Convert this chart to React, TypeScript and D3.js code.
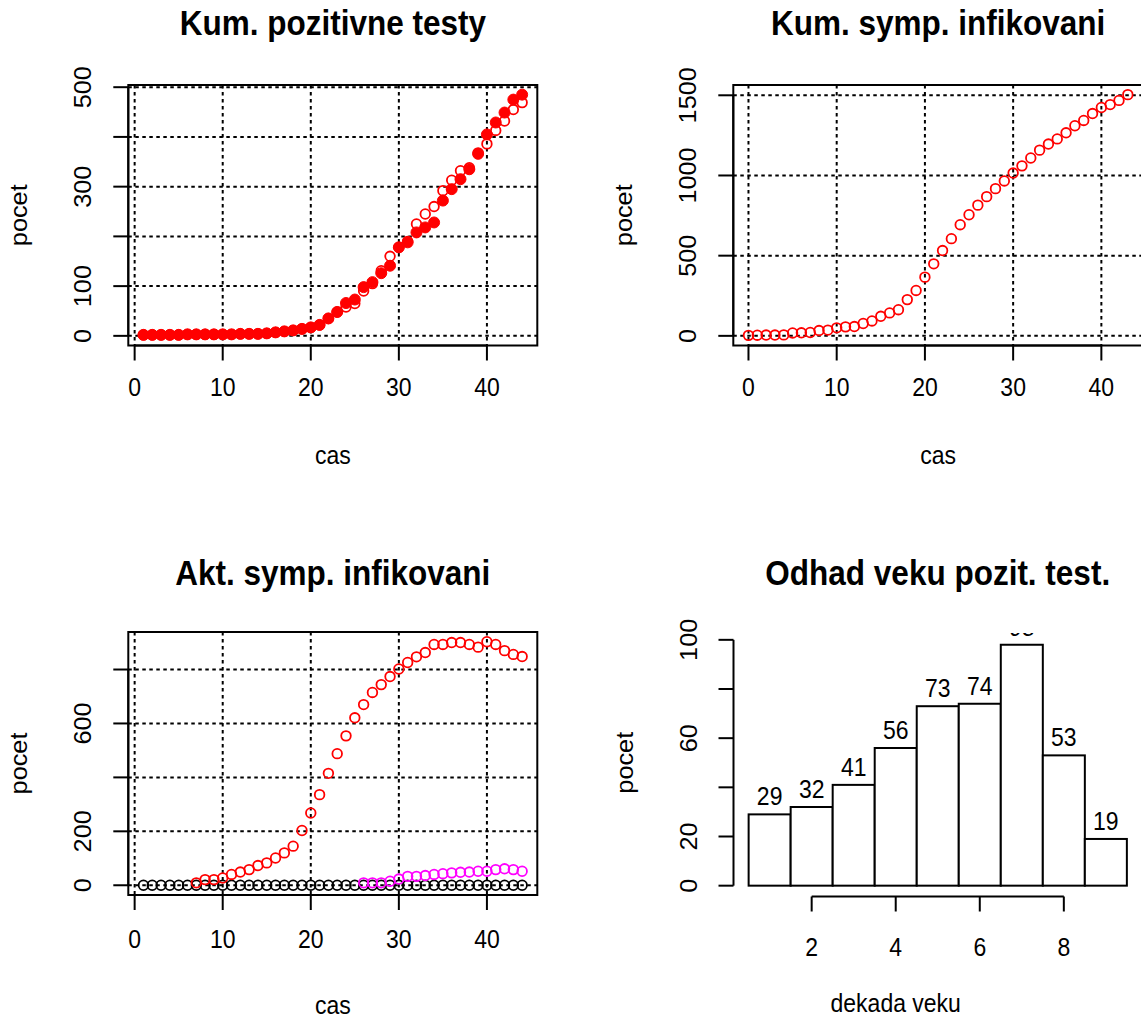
import React, { useEffect, useRef } from 'react';
import * as d3 from 'd3';

const FONT = '"Liberation Sans", Arial, sans-serif';
const STRETCH = 1.1; // the picture's text is a little taller than wide

// Kum. pozitivne testy (day 1..44)
const posDays = d3.range(1, 45);
const posTests = [
  2, 2, 2, 2, 2, 3, 3, 3, 3, 3, 3, 4, 4, 4, 5, 7, 9, 11, 14, 17, 22, 35, 48, 66, 73, 98,
  108, 126, 141, 178, 188, 208, 218, 228, 272, 295, 315, 335, 366, 405, 429, 449, 475, 485
];
const posTestsAlt = [
  2, 2, 2, 2, 2, 3, 3, 3, 3, 3, 3, 4, 4, 4, 5, 7, 9, 11, 14, 17, 22, 35, 48, 58, 65, 90,
  105, 131, 160, 178, 190, 225, 245, 260, 292, 313, 332, 338, 368, 386, 413, 432, 455, 469
];

// Kum. symp. infikovani (day 0..43)
const cumDays = d3.range(0, 44);
const cumSymp = [
  3, 4, 5, 5, 6, 18, 19, 21, 33, 36, 50, 56, 58, 77, 93, 122, 143, 163, 226, 283, 366, 449,
  532, 606, 693, 755, 815, 868, 918, 966, 1015, 1060, 1109, 1158, 1196, 1228, 1266, 1310,
  1343, 1386, 1424, 1442, 1468, 1504
];

// Akt. symp. infikovani
const actDays = d3.range(1, 45);
const actBlack = [
  0, 0, 0, 0, 0, 0, 0, 0, 0, 0, 0, 0, 0, 0, 0, 0, 0, 0, 0, 0, 0, 0, 0, 0, 0, 0, 0, 0, 0, 0,
  0, 0, 0, 0, 0, 0, 0, 0, 0, 0, 0, 0, 0, 0
];
const actRedDays = d3.range(7, 45);
const actRed = [
  9, 21, 21, 27, 40, 49, 58, 73, 83, 101, 120, 145, 203, 268, 336, 415, 488, 554, 621, 670,
  715, 744, 774, 802, 826, 847, 863, 893, 893, 900, 900, 893, 883, 903, 893, 870, 856, 848
];
const actMagDays = d3.range(26, 45);
const actMag = [9, 9, 9, 15, 23, 33, 33, 36, 40, 43, 46, 48, 49, 52, 52, 58, 61, 58, 52];

// Odhad veku pozit. test.
const decades = [1, 2, 3, 4, 5, 6, 7, 8, 9];
const decadeCounts = [29, 32, 41, 56, 73, 74, 98, 53, 19];

const dayTicks = [0, 10, 20, 30, 40];
const posTicks = [0, 100, 200, 300, 400, 500];
const posLabels = [0, 100, 300, 500];
const cumTicks = [0, 500, 1000, 1500];
const cumLabels = [0, 500, 1000, 1500];
const actTicks = [0, 200, 400, 600, 800];
const actLabels = [0, 200, 600];
const histYTicks = [0, 20, 40, 60, 80, 100];
const histYLabels = [0, 20, 60, 100];
const histXTicks = [2, 4, 6, 8];

const pad = (lo: number, hi: number): [number, number] => {
  const r = hi - lo;
  return [lo - 0.04 * r, hi + 0.04 * r];
};

// horizontal or rotated text, stretched along the page's vertical
function txt(g: any, x: number, y: number, s: any, size: number, rotated = false, bold = false) {
  const tf = rotated
    ? `translate(${x},${y}) rotate(-90) scale(${STRETCH},1)`
    : `translate(${x},${y}) scale(1,${STRETCH})`;
  return g.append('text')
    .attr('transform', tf)
    .attr('text-anchor', 'middle')
    .attr('font-size', size)
    .attr('font-weight', bold ? 'bold' : 'normal')
    .text(s);
}

function drawAxes(g: any, p: any, x: any, y: any, xTicks: number[], yTicks: number[], yLabels: number[], tickLabelY: number) {
  const bottom = p.axisY !== undefined ? p.axisY : p.bottom;
  g.append('line')
    .attr('x1', x(xTicks[0])).attr('x2', x(xTicks[xTicks.length - 1]))
    .attr('y1', bottom).attr('y2', bottom)
    .attr('stroke', '#000').attr('stroke-width', 2);
  g.selectAll('.xt').data(xTicks).enter().append('line')
    .attr('x1', (d: number) => x(d)).attr('x2', (d: number) => x(d))
    .attr('y1', bottom).attr('y2', bottom + 15)
    .attr('stroke', '#000').attr('stroke-width', 2);
  xTicks.forEach((d) => txt(g, x(d), tickLabelY, d, 23));

  g.append('line')
    .attr('x1', p.left).attr('x2', p.left)
    .attr('y1', y(yTicks[0])).attr('y2', y(yTicks[yTicks.length - 1]))
    .attr('stroke', '#000').attr('stroke-width', 2);
  g.selectAll('.yt').data(yTicks).enter().append('line')
    .attr('x1', p.left - 15).attr('x2', p.left)
    .attr('y1', (d: number) => y(d)).attr('y2', (d: number) => y(d))
    .attr('stroke', '#000').attr('stroke-width', 2);
  yLabels.forEach((d) => txt(g, p.left - 37, y(d), d, 23, true));
}

function drawTitles(g: any, p: any, title: string, xTitle: string, xTitleX: number, xTitleY: number) {
  const cx = (p.left + p.right) / 2;
  txt(g, cx, p.titleY, title, 31.5, false, true);
  txt(g, xTitleX, xTitleY, xTitle, 23);
  txt(g, p.left - 101, (p.top + p.bottom) / 2, 'pocet', 23, true);
}

function drawScatter(svg: any, id: string, p: any, cfg: any) {
  const x = d3.scaleLinear().domain(cfg.xDomain).range([p.left, p.right]);
  const y = d3.scaleLinear().domain(cfg.yDomain).range([p.bottom, p.top]);
  const g = svg.append('g').attr('font-family', FONT);

  g.append('clipPath').attr('id', id)
    .append('rect')
    .attr('x', p.left).attr('y', p.top)
    .attr('width', p.right - p.left).attr('height', p.bottom - p.top);

  const plot = g.append('g').attr('clip-path', `url(#${id})`);

  plot.selectAll('.gx').data(dayTicks).enter().append('line')
    .attr('x1', (d: number) => x(d)).attr('x2', (d: number) => x(d))
    .attr('y1', p.top).attr('y2', p.bottom)
    .attr('stroke', '#000').attr('stroke-width', 2).attr('stroke-dasharray', '3.5,3.5');
  plot.selectAll('.gy').data(cfg.yTicks).enter().append('line')
    .attr('x1', p.left).attr('x2', p.right)
    .attr('y1', (d: number) => y(d)).attr('y2', (d: number) => y(d))
    .attr('stroke', '#000').attr('stroke-width', 2).attr('stroke-dasharray', '3.5,3.5');

  cfg.series.forEach((s: any) => {
    plot.append('g').selectAll('circle').data(s.values).enter().append('circle')
      .attr('cx', (_: number, i: number) => x(s.days[i]))
      .attr('cy', (d: number) => y(d))
      .attr('r', s.filled ? 5.5 : 4.8)
      .attr('fill', s.filled ? s.color : 'none')
      .attr('stroke', s.color)
      .attr('stroke-width', s.filled ? 1 : 1.8);
  });

  g.append('rect')
    .attr('x', p.left).attr('y', p.top)
    .attr('width', p.right - p.left).attr('height', p.bottom - p.top)
    .attr('fill', 'none').attr('stroke', '#000').attr('stroke-width', 2);

  drawAxes(g, p, x, y, dayTicks, cfg.yTicks, cfg.yLabels, cfg.tickLabelY);
  drawTitles(g, p, cfg.title, 'cas', (p.left + p.right) / 2, cfg.xTitleY);
}

function drawHist(svg: any, p: any) {
  const x = d3.scaleLinear().domain(pad(0.5, 9.5)).range([p.left, p.right]);
  const y = d3.scaleLinear().domain(pad(0, 100)).range([p.bottom, p.top]);
  const g = svg.append('g').attr('font-family', FONT);

  g.append('clipPath').attr('id', 'clip-hist')
    .append('rect')
    .attr('x', p.left).attr('y', p.clipTop)
    .attr('width', p.right - p.left).attr('height', p.bottom - p.clipTop);
  const plot = g.append('g').attr('clip-path', 'url(#clip-hist)');

  plot.selectAll('rect.bar').data(decadeCounts).enter().append('rect')
    .attr('class', 'bar')
    .attr('x', (_: number, i: number) => x(decades[i] - 0.5))
    .attr('width', (_: number, i: number) => x(decades[i] + 0.5) - x(decades[i] - 0.5))
    .attr('y', (d: number) => y(d))
    .attr('height', (d: number) => y(0) - y(d))
    .attr('fill', '#fff').attr('stroke', '#000').attr('stroke-width', 2);

  decadeCounts.forEach((d, i) => txt(plot, x(decades[i]), y(d) - 9, d, 23));

  drawAxes(g, { ...p, axisY: p.bottom + 1 }, x, y, histXTicks, histYTicks, histYLabels, 956);
  drawTitles(g, p, 'Odhad veku pozit. test.', 'dekada veku', x(4), 1012);
}

export default function App() {
  const ref = useRef<SVGSVGElement>(null);

  useEffect(() => {
    const svg = d3.select(ref.current);
    svg.selectAll('*').remove();

    const p1 = { left: 128.3, right: 537.3, top: 85, bottom: 345.5, titleY: 35 };
    const p2 = { left: 733.3, right: 1143, top: 85, bottom: 345.5, titleY: 35 };
    const p3 = { left: 128.3, right: 537.3, top: 632, bottom: 895, titleY: 585 };
    const p4 = { left: 733.5, right: 1142, top: 630, clipTop: 633, bottom: 895.5, titleY: 585 };

    drawScatter(svg, 'clip-p1', p1, {
      title: 'Kum. pozitivne testy',
      xDomain: pad(1, 44),
      yDomain: pad(0, d3.max(posTests) as number),
      yTicks: posTicks,
      yLabels: posLabels,
      tickLabelY: 396,
      xTitleY: 464,
      series: [
        { days: posDays, values: posTests, color: '#ff0000', filled: true },
        { days: posDays, values: posTestsAlt, color: '#ff0000', filled: false }
      ]
    });

    drawScatter(svg, 'clip-p2', p2, {
      title: 'Kum. symp. infikovani',
      xDomain: pad(0, 43),
      yDomain: pad(0, d3.max(cumSymp) as number),
      yTicks: cumTicks,
      yLabels: cumLabels,
      tickLabelY: 396,
      xTitleY: 464,
      series: [{ days: cumDays, values: cumSymp, color: '#ff0000', filled: false }]
    });

    drawScatter(svg, 'clip-p3', p3, {
      title: 'Akt. symp. infikovani',
      xDomain: pad(1, 44),
      yDomain: pad(0, d3.max(actRed) as number),
      yTicks: actTicks,
      yLabels: actLabels,
      tickLabelY: 948,
      xTitleY: 1014,
      series: [
        { days: actDays, values: actBlack, color: '#000000', filled: false },
        { days: actRedDays, values: actRed, color: '#ff0000', filled: false },
        { days: actMagDays, values: actMag, color: '#ff00ff', filled: false }
      ]
    });

    drawHist(svg, p4);
  }, []);

  return (
    <svg
      ref={ref}
      width={1141}
      height={1024}
      style={{ position: 'absolute', left: 0, top: 0, background: '#fff' }}
    />
  );
}
